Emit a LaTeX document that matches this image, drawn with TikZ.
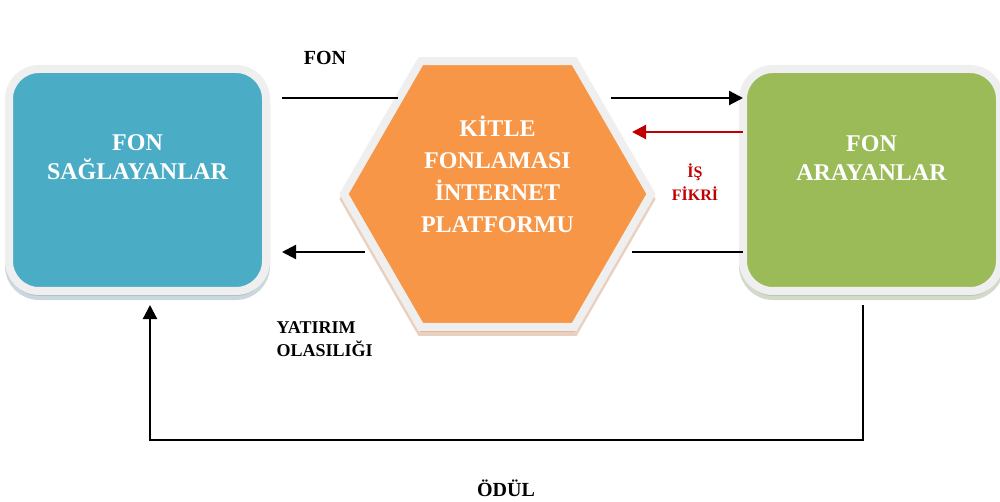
\documentclass[tikz,border=0pt]{standalone}
\usepackage{fontspec}
\setmainfont{Liberation Serif}
\usetikzlibrary{arrows.meta,shapes.geometric,shadows,calc}
\definecolor{fonblue}{RGB}{75,172,198}
\definecolor{fongreen}{RGB}{155,187,89}
\definecolor{fonorange}{RGB}{247,150,70}
\definecolor{rim}{RGB}{239,239,239}
\definecolor{fonred}{RGB}{192,0,0}
\definecolor{shblue}{RGB}{150,176,188}
\definecolor{shgreen}{RGB}{168,182,150}
\definecolor{shbrown}{RGB}{212,162,128}
\tikzset{
  box/.style={rounded corners=30pt, minimum width=257pt, minimum height=222pt,
    inner sep=0pt, outer sep=0pt, draw=rim, line width=8pt},
  hexa/.style={regular polygon, regular polygon sides=6, minimum size=307pt,
    inner sep=0pt, outer sep=0pt, draw=rim, line width=8pt, fill=fonorange},
  bigtext/.style={text=white, align=center, font=\bfseries\fontsize{24}{29}\selectfont},
  hextext/.style={text=white, align=center, font=\bfseries\fontsize{24}{32}\selectfont},
  lbl/.style={text=black, font=\bfseries\fontsize{20}{24}\selectfont},
  small/.style={text=black, align=left, font=\bfseries\fontsize{18}{23}\selectfont},
  redlbl/.style={text=fonred, align=center, font=\bfseries\fontsize{16}{23}\selectfont},
  conn/.style={draw=black, line width=2.2pt},
  arr/.style={conn, -{Triangle[length=14pt,width=14pt]}},
  redarr/.style={draw=fonred, line width=2.2pt, -{Triangle[length=14pt,width=14pt]}},
}
\begin{document}
\begin{tikzpicture}[x=1pt,y=-1pt]
\path[use as bounding box, fill=white] (0,0) rectangle (1000,502);
% rows
\coordinate (rowA) at (0,98);
\coordinate (rowB) at (0,132);
\coordinate (rowC) at (0,252);
\coordinate (loopY) at (0,440);
% nodes
\node[box, fill=fonblue, drop shadow={shadow xshift=0pt, shadow yshift=-5pt, fill=shblue, draw=shblue, line width=8pt}] (lb) at (137.5,180) {};
\node[box, fill=fongreen, drop shadow={shadow xshift=0pt, shadow yshift=-5pt, fill=shgreen, draw=shgreen, line width=8pt}] (rb) at (871.5,180) {};
\node[hexa, drop shadow={shadow xshift=0pt, shadow yshift=-5pt, fill=shbrown, draw=shbrown, line width=8pt}] (h) at (497.5,194) {};
\node[bigtext] (lbt) at ([yshift=22.5pt]lb.center) {FON\\SAĞLAYANLAR};
\node[bigtext] (rbt) at ([yshift=21.5pt]rb.center) {FON\\ARAYANLAR};
\node[hextext] (ht) at ([yshift=20pt]h.center) {KİTLE\\FONLAMASI\\İNTERNET\\PLATFORMU};
% labels
\node[lbl] (fon) at (325,58) {FON};
\node[small, anchor=west] (yat) at (273,339) {YATIRIM\\OLASILIĞI};
\node[redlbl] (is) at (695,182) {İŞ\\FİKRİ};
\node[lbl] (odul) at (506,488) {ÖDÜL};
% connectors
\draw[conn] ([xshift=16pt]lb.east |- rowA) -- ([xshift=54pt]h.west |- rowA);
\draw[arr] ([xshift=-40pt]h.east |- rowA) -- (rb.west |- rowA);
\draw[redarr] (rb.west |- rowB) -- ([xshift=-19pt]h.east |- rowB);
\draw[conn] (rb.west |- rowC) -- ([xshift=-19pt]h.east |- rowC);
\draw[arr] ([xshift=21pt]h.west |- rowC) -- ([xshift=16pt]lb.east |- rowC);
\draw[arr] ([xshift=-8.5pt,yshift=-14pt]rb.south) -- ([xshift=-8.5pt]rb.south |- loopY) -| ([xshift=12.5pt,yshift=-14pt]lb.south);
\end{tikzpicture}
\end{document}
